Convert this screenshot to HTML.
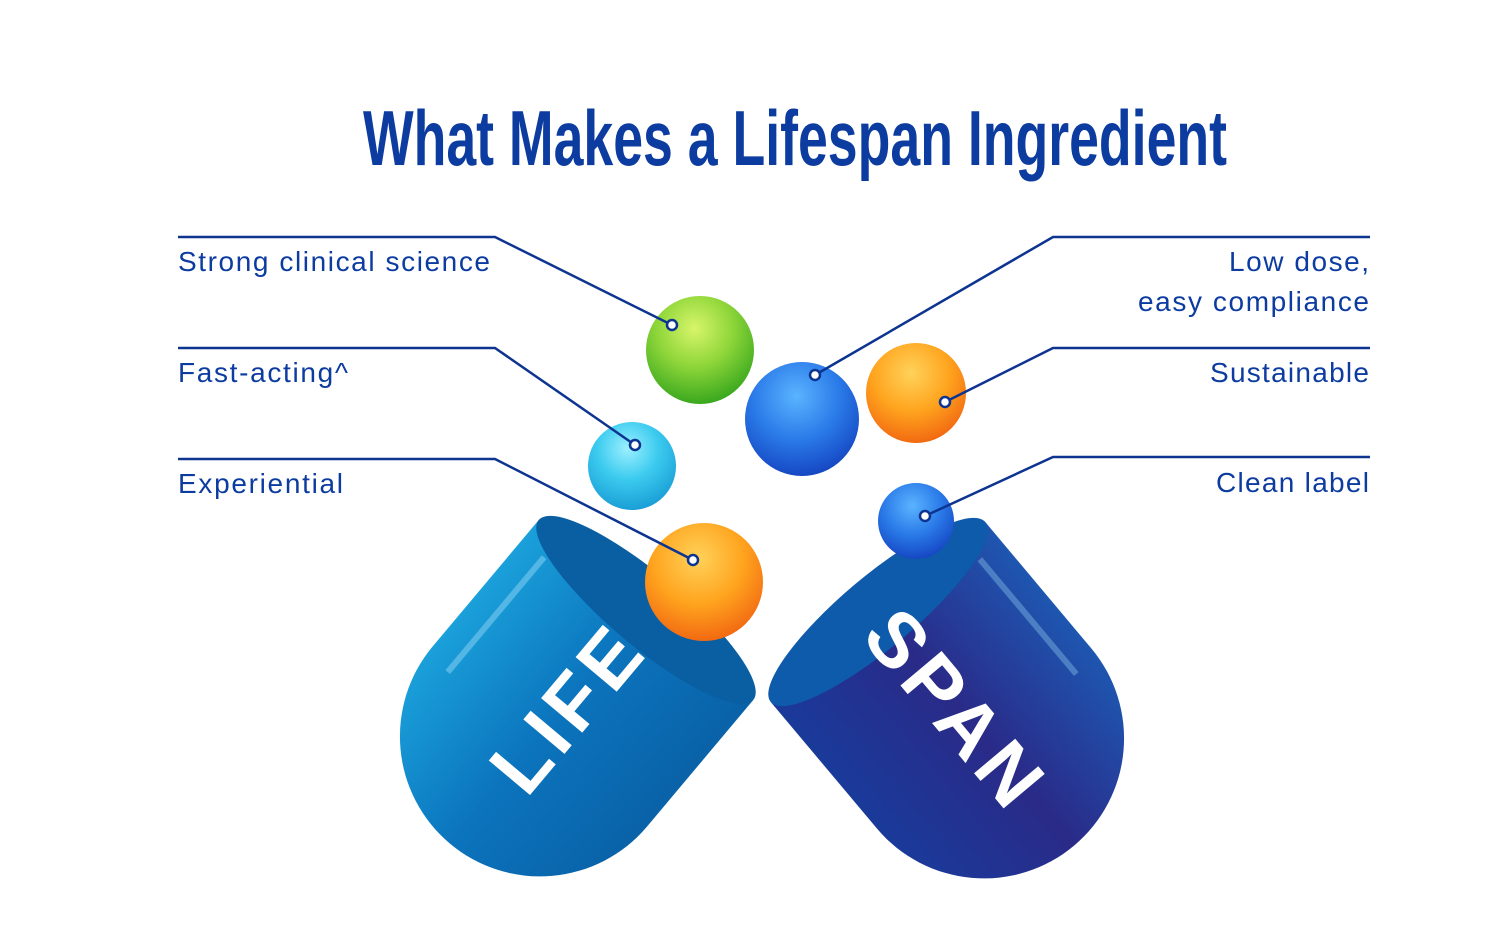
<!DOCTYPE html>
<html><head><meta charset="utf-8"><style>html,body{margin:0;padding:0;background:#fff}svg{display:block}</style></head><body>
<svg width="1500" height="952" viewBox="0 0 1500 952" xmlns="http://www.w3.org/2000/svg">
<defs>
<radialGradient id="gG" cx="0.45" cy="0.3" r="0.7"><stop offset="0" stop-color="#d8f56a"/><stop offset="0.5" stop-color="#8fd63a"/><stop offset="1" stop-color="#3aa81e"/></radialGradient>
<radialGradient id="gB" cx="0.45" cy="0.3" r="0.7"><stop offset="0" stop-color="#5ab4ff"/><stop offset="0.55" stop-color="#2a7ae8"/><stop offset="1" stop-color="#1648c4"/></radialGradient>
<radialGradient id="gO" cx="0.45" cy="0.3" r="0.7"><stop offset="0" stop-color="#ffd25a"/><stop offset="0.55" stop-color="#ffa41e"/><stop offset="1" stop-color="#f26a12"/></radialGradient>
<radialGradient id="gC" cx="0.45" cy="0.3" r="0.7"><stop offset="0" stop-color="#9cf0ff"/><stop offset="0.5" stop-color="#3ccbef"/><stop offset="1" stop-color="#1a9fd6"/></radialGradient>
<linearGradient id="lL" x1="0" y1="0" x2="1" y2="0"><stop offset="0" stop-color="#1aa0da"/><stop offset="0.5" stop-color="#0b74bd"/><stop offset="1" stop-color="#0a62a8"/></linearGradient>
<linearGradient id="lR" x1="0" y1="0" x2="1" y2="0"><stop offset="0" stop-color="#1a3a9a"/><stop offset="0.5" stop-color="#2a2a88"/><stop offset="1" stop-color="#1e56b0"/></linearGradient>
</defs>
<text x="795" y="165" text-anchor="middle" font-family="'Liberation Sans Narrow','Liberation Sans',sans-serif" font-weight="bold" font-size="78" fill="#0d3ca0" textLength="864" lengthAdjust="spacingAndGlyphs">What Makes a Lifespan Ingredient</text>

<!-- left capsule -->
<g transform="translate(646,610) rotate(40)">
<path d="M-140,0 L-140,165 A140,140 0 0 0 140,165 L140,0 Z" fill="url(#lL)"/>
<path d="M-112,25 L-112,175" stroke="#7ccbf0" stroke-width="6" opacity="0.6"/>
<ellipse cx="0" cy="0" rx="140" ry="36" fill="#0a5fa3"/>
<text x="0" y="155" text-anchor="middle" transform="rotate(-90 0 125)" font-family="'Liberation Sans',sans-serif" font-weight="bold" font-size="78" fill="#fff" letter-spacing="6">LIFE</text>
</g>
<!-- right capsule -->
<g transform="translate(878,612) rotate(-40)">
<path d="M-140,0 L-140,165 A140,140 0 0 0 140,165 L140,0 Z" fill="url(#lR)"/>
<path d="M112,25 L112,175" stroke="#6aa0d8" stroke-width="6" opacity="0.6"/>
<ellipse cx="0" cy="0" rx="140" ry="36" fill="#0e5aab"/>
<text x="0" y="155" text-anchor="middle" transform="rotate(90 0 125)" font-family="'Liberation Sans',sans-serif" font-weight="bold" font-size="78" fill="#fff" letter-spacing="6">SPAN</text>
</g>

<circle cx="700" cy="350" r="54" fill="url(#gG)"/>
<circle cx="802" cy="419" r="57" fill="url(#gB)"/>
<circle cx="916" cy="393" r="50" fill="url(#gO)"/>
<circle cx="632" cy="466" r="44" fill="url(#gC)"/>
<circle cx="704" cy="582" r="59" fill="url(#gO)"/>
<circle cx="916" cy="521" r="38" fill="url(#gB)"/>

<g stroke="#0d3490" stroke-width="2.5" fill="none">
<polyline points="178,237 495,237 672,325"/>
<polyline points="178,348 495,348 635,445"/>
<polyline points="178,459 495,459 693,560"/>
<polyline points="1370,237 1053,237 815,375"/>
<polyline points="1370,348 1053,348 945,402"/>
<polyline points="1370,457 1053,457 925,516"/>
<g fill="#fff"><circle cx="672" cy="325" r="5"/><circle cx="635" cy="445" r="5"/><circle cx="693" cy="560" r="5"/><circle cx="815" cy="375" r="5"/><circle cx="945" cy="402" r="5"/><circle cx="925" cy="516" r="5"/></g>
</g>
<g font-family="'Liberation Sans',sans-serif" font-size="28" fill="#0d3ca0">
<text x="178" y="271" textLength="312">Strong clinical science</text>
<text x="178" y="382" textLength="170">Fast-acting^</text>
<text x="178" y="493" textLength="165">Experiential</text>
<text x="1229" y="271" textLength="140">Low dose,</text>
<text x="1138" y="311" textLength="231">easy compliance</text>
<text x="1210" y="382" textLength="159">Sustainable</text>
<text x="1216" y="492" textLength="153">Clean label</text>
</g>
</svg>
</body></html>
